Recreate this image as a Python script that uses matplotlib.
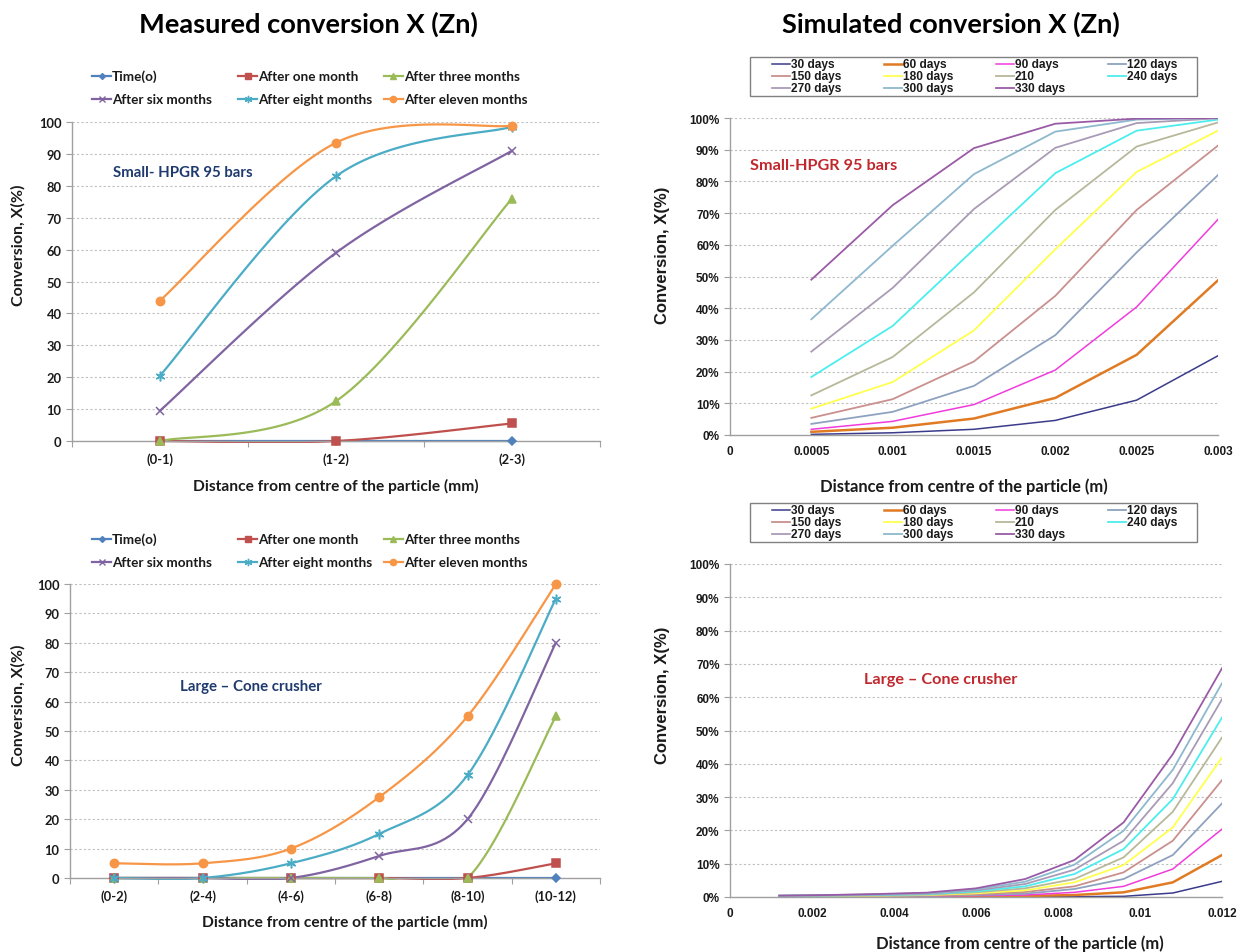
import matplotlib
matplotlib.use("Agg")
import matplotlib.pyplot as plt
import numpy as np
from matplotlib.lines import Line2D
from matplotlib.patches import Rectangle
from matplotlib.ticker import FuncFormatter, MultipleLocator

W, H = 1244, 953
CAL = "Lato"
ARIAL = "Liberation Sans"
INK = "#1a1a1a"
NAVY = "#1F3A6E"
DARK_RED = "#C0282D"
GRID = "#BFBFBF"
SPINE = "#A0A0A0"

# measured conversion, small particles (HPGR 95 bar)
small_bins = ["(0-1)", "(1-2)", "(2-3)"]
small_time0 = [0, 0, 0]
small_one = [0, 0, 5.5]
small_three = [0, 12.5, 76]
small_six = [9.5, 59, 91]
small_eight = [20.5, 83, 98.5]
small_eleven = [44, 93.5, 98.8]

# measured conversion, large particles (cone crusher)
large_bins = ["(0-2)", "(2-4)", "(4-6)", "(6-8)", "(8-10)", "(10-12)"]
large_time0 = [0, 0, 0, 0, 0, 0]
large_one = [0, 0, 0, 0, 0, 5]
large_three = [0, 0, 0, 0, 0, 55]
large_six = [0, 0, 0, 7.5, 20, 80]
large_eight = [0, 0, 5, 15, 35, 95]
large_eleven = [5, 5, 10, 27.5, 55, 100]

measured_names = ["Time(o)", "After one month", "After three months",
                  "After six months", "After eight months", "After eleven months"]
measured_colors = ["#4F81BD", "#C0504D", "#9BBB59", "#8064A2", "#4BACC6", "#F79646"]
measured_markers = ["D", "s", "^", "x", (6, 2, 0), "o"]
measured_msize = [4, 5.5, 6, 6, 7, 6]

# simulated conversion (%), small particles
sim_small_r = [0.0005, 0.001, 0.0015, 0.002, 0.0025, 0.003]
sim_small = {
    "30 days": [0.2, 0.7, 1.8, 4.6, 11.0, 25.0],
    "60 days": [1.0, 2.3, 5.2, 11.7, 25.3, 48.8],
    "90 days": [1.8, 4.3, 9.6, 20.5, 40.4, 68.0],
    "120 days": [3.5, 7.3, 15.5, 31.5, 57.6, 82.0],
    "150 days": [5.4, 11.3, 23.2, 43.9, 71.0, 91.3],
    "180 days": [8.3, 16.7, 33.0, 58.6, 83.0, 96.0],
    "210": [12.5, 24.6, 45.0, 71.0, 91.0, 98.6],
    "240 days": [18.3, 34.4, 58.6, 82.6, 96.0, 99.5],
    "270 days": [26.3, 46.4, 71.3, 90.6, 98.4, 99.9],
    "300 days": [36.5, 59.7, 82.3, 95.7, 99.5, 100.0],
    "330 days": [49.0, 72.5, 90.5, 98.2, 99.8, 100.0],
}

# simulated conversion (%), large particles
sim_large_r = [0.0012, 0.0024, 0.0036, 0.0048, 0.006, 0.0072, 0.0084, 0.0096, 0.0108, 0.012]
sim_large = {
    "30 days": [0.05, 0.05, 0.05, 0.05, 0.05, 0.1, 0.1, 0.2, 1.2, 4.7],
    "60 days": [0.1, 0.1, 0.15, 0.15, 0.2, 0.3, 0.6, 1.4, 4.4, 12.6],
    "90 days": [0.15, 0.2, 0.2, 0.25, 0.4, 0.6, 1.4, 3.2, 8.4, 20.4],
    "120 days": [0.2, 0.25, 0.3, 0.35, 0.6, 1.0, 2.4, 5.4, 12.6, 28.1],
    "150 days": [0.25, 0.3, 0.35, 0.45, 0.8, 1.5, 3.2, 7.4, 16.9, 35.1],
    "180 days": [0.3, 0.35, 0.4, 0.6, 1.1, 2.0, 4.4, 9.6, 20.9, 41.9],
    "210": [0.35, 0.4, 0.5, 0.7, 1.4, 2.6, 5.4, 11.9, 25.6, 47.9],
    "240 days": [0.4, 0.45, 0.6, 0.85, 1.7, 3.2, 6.9, 14.4, 29.4, 53.9],
    "270 days": [0.4, 0.5, 0.7, 1.0, 2.0, 3.9, 8.2, 16.9, 34.2, 59.4],
    "300 days": [0.4, 0.55, 0.8, 1.15, 2.3, 4.6, 9.7, 19.9, 38.2, 64.2],
    "330 days": [0.4, 0.6, 0.9, 1.3, 2.6, 5.4, 11.1, 22.4, 42.9, 68.7],
}

sim_colors = ["#3B3B8C", "#E07B24", "#F03CDC", "#8EA2BF", "#C9908E", "#FFFF4D",
              "#B7B89A", "#4DEDED", "#A99BB5", "#8DB8CE", "#9A5BA6"]
sim_widths = [1.1, 1.8, 1.1, 1.3, 1.3, 1.3, 1.3, 1.3, 1.3, 1.3, 1.3]


def fx(x):
    return x / W


def fy(y):
    return 1 - y / H


def px_axes(fig, left, top, right, bottom):
    return fig.add_axes([fx(left), fy(bottom), (right - left) / W, (bottom - top) / H])


def smooth(x, y, n=40):
    # cubic Bezier through every point, Catmull-Rom style control points
    p = np.column_stack([x, y]).astype(float)
    pad = np.vstack([p[0], p, p[-1]])
    t = np.linspace(0, 1, n)[1:, None]
    out = [p[:1]]
    for i in range(len(p) - 1):
        p0, p1, p2, p3 = pad[i], pad[i + 1], pad[i + 2], pad[i + 3]
        c1 = p1 + (p2 - p0) / 6
        c2 = p2 - (p3 - p1) / 6
        out.append((1 - t) ** 3 * p1 + 3 * (1 - t) ** 2 * t * c1
                   + 3 * (1 - t) * t ** 2 * c2 + t ** 3 * p2)
    arr = np.vstack(out)
    return arr[:, 0], arr[:, 1]


def style_axes(ax):
    for side in ("top", "right"):
        ax.spines[side].set_visible(False)
    for side in ("left", "bottom"):
        ax.spines[side].set_color(SPINE)
        ax.spines[side].set_linewidth(1.0)
    ax.yaxis.grid(True, color=GRID, lw=0.8, ls=(0, (2, 2)))
    ax.set_axisbelow(True)
    ax.tick_params(colors=SPINE, length=4, width=0.8, direction="out")


def measured_panel(fig, box, bins, series, note, note_px):
    ax = px_axes(fig, *box)
    style_axes(ax)
    pos = np.arange(len(bins)) + 0.5
    clip = Rectangle((0, -0.006), 1, 1.03, transform=ax.transAxes)
    for vals, color, marker, ms in zip(series, measured_colors, measured_markers, measured_msize):
        sx, sy = smooth(pos, vals)
        line, = ax.plot(sx, sy, color=color, lw=1.6)
        line.set_clip_path(clip)
        mfc = "none" if marker == "x" else color
        ax.plot(pos, vals, ls="none", marker=marker, ms=ms, color=color,
                mfc=mfc, mew=1.1, clip_on=False, zorder=3)
    ax.set_xlim(0, len(bins))
    ax.set_ylim(0, 100)
    ax.yaxis.set_major_locator(MultipleLocator(10))
    ax.set_xticks(np.arange(len(bins) + 1))
    ax.set_xticklabels([])
    ax.set_xticks(pos, minor=True)
    ax.set_xticklabels(bins, minor=True)
    ax.tick_params(axis="x", which="minor", length=0, pad=8)
    for lab in ax.get_xticklabels(minor=True) + ax.get_yticklabels():
        lab.set_fontfamily(CAL)
        lab.set_fontweight("bold")
        lab.set_fontsize(9.3)
        lab.set_color(INK)
    fig.text(fx(note_px[0]), fy(note_px[1]), note, family=CAL, weight="bold",
             fontsize=10.8, color=NAVY, va="center", ha="left")
    return ax


def measured_legend(fig, row1_y):
    cols = [92, 238, 384]
    rows = [row1_y, row1_y + 23]
    for i, name in enumerate(measured_names):
        x0 = cols[i % 3]
        y = rows[i // 3]
        color = measured_colors[i]
        fig.add_artist(Line2D([fx(x0), fx(x0 + 19)], [fy(y), fy(y)], color=color, lw=1.6,
                              transform=fig.transFigure))
        mfc = "none" if measured_markers[i] == "x" else color
        fig.add_artist(Line2D([fx(x0 + 9.5)], [fy(y)], marker=measured_markers[i],
                              ms=measured_msize[i] * 0.75, color=color, mfc=mfc, mew=1.0,
                              transform=fig.transFigure))
        fig.text(fx(x0 + 20), fy(y), name, family=CAL, weight="bold", fontsize=9.7,
                 color=INK, va="center", ha="left")


def sim_panel(fig, box, radii, curves, xmax, xstep, xfmt, note, note_px):
    ax = px_axes(fig, *box)
    style_axes(ax)
    for vals, color, lw in zip(curves.values(), sim_colors, sim_widths):
        ax.plot(radii, vals, color=color, lw=lw, solid_joinstyle="round")
    ax.set_xlim(0, xmax)
    ax.set_ylim(0, 100)
    ax.yaxis.set_major_locator(MultipleLocator(10))
    ax.yaxis.set_major_formatter(FuncFormatter(lambda v, _: f"{v:.0f}%"))
    ax.xaxis.set_major_locator(MultipleLocator(xstep))
    ax.xaxis.set_major_formatter(FuncFormatter(xfmt))
    ax.tick_params(axis="x", length=0, pad=7)
    for lab in ax.get_xticklabels() + ax.get_yticklabels():
        lab.set_fontfamily(ARIAL)
        lab.set_fontweight("bold")
        lab.set_fontsize(8.5)
        lab.set_color(INK)
    fig.text(fx(note_px[0]), fy(note_px[1]), note, family=CAL, weight="bold",
             fontsize=11.7, color=DARK_RED, va="center", ha="left")
    return ax


def sim_legend(fig, top):
    fig.add_artist(Rectangle((fx(750), fy(top + 39)), 447 / W, 39 / H, fill=False,
                             edgecolor="#808080", lw=1.0, transform=fig.transFigure))
    cols = [772, 884, 996, 1108]
    rows = [top + 7, top + 19, top + 31]
    for i, name in enumerate(sim_small):
        x0 = cols[i % 4]
        y = rows[i // 4]
        fig.add_artist(Line2D([fx(x0), fx(x0 + 18)], [fy(y), fy(y)], color=sim_colors[i],
                              lw=sim_widths[i], transform=fig.transFigure))
        fig.text(fx(x0 + 19), fy(y), name, family=ARIAL, weight="bold", fontsize=8.6,
                 color=INK, va="center", ha="left")


def fmt_small(v, _):
    return "0" if abs(v) < 1e-12 else f"{v:.4f}".rstrip("0")


def fmt_large(v, _):
    return "0" if abs(v) < 1e-12 else f"{v:.3f}".rstrip("0")


fig = plt.figure(figsize=(W / 100, H / 100), dpi=100)

fig.text(fx(308), fy(24), "Measured conversion X (Zn)", family=CAL, weight="bold",
         fontsize=19.6, color="black", ha="center", va="center")
fig.text(fx(951), fy(24), "Simulated conversion X (Zn)", family=CAL, weight="bold",
         fontsize=19.6, color="black", ha="center", va="center")

# measured, top left
measured_legend(fig, 77)
measured_panel(fig, (72, 123, 600, 442), small_bins,
               [small_time0, small_one, small_three, small_six, small_eight, small_eleven],
               "Small- HPGR 95 bars", (113, 173))
fig.text(fx(18), fy(245), "Conversion, X(%)", family=CAL, weight="bold", fontsize=11.5,
         color=INK, rotation=90, ha="center", va="center")
fig.text(fx(336), fy(486), "Distance from centre of the particle (mm)", family=CAL,
         weight="bold", fontsize=11.2, color=INK, ha="center", va="center")

# measured, bottom left
measured_legend(fig, 540)
measured_panel(fig, (70, 585, 600, 879), large_bins,
               [large_time0, large_one, large_three, large_six, large_eight, large_eleven],
               "Large \u2013 Cone crusher", (180, 687))
fig.text(fx(18), fy(705), "Conversion, X(%)", family=CAL, weight="bold", fontsize=11.5,
         color=INK, rotation=90, ha="center", va="center")
fig.text(fx(345), fy(922), "Distance from centre of the particle (mm)", family=CAL,
         weight="bold", fontsize=11.2, color=INK, ha="center", va="center")

# simulated, top right
sim_legend(fig, 58)
sim_panel(fig, (730, 119, 1218, 436), sim_small_r, sim_small, 0.003, 0.0005, fmt_small,
          "Small-HPGR 95 bars", (750, 166))
fig.text(fx(662), fy(255), "Conversion, X(%)", family=ARIAL, weight="bold", fontsize=12,
         color=INK, rotation=90, ha="center", va="center")
fig.text(fx(964), fy(487), "Distance from centre of the particle (m)", family=CAL,
         weight="bold", fontsize=11.9, color=INK, ha="center", va="center")

# simulated, bottom right
sim_legend(fig, 504)
sim_panel(fig, (730, 565, 1222, 898), sim_large_r, sim_large, 0.012, 0.002, fmt_large,
          "Large \u2013 Cone crusher", (864, 680))
fig.text(fx(662), fy(695), "Conversion, X(%)", family=ARIAL, weight="bold", fontsize=12,
         color=INK, rotation=90, ha="center", va="center")
fig.text(fx(1020), fy(944), "Distance from centre of the particle (m)", family=CAL,
         weight="bold", fontsize=11.9, color=INK, ha="center", va="center")

fig.savefig("out.png", dpi=100)
